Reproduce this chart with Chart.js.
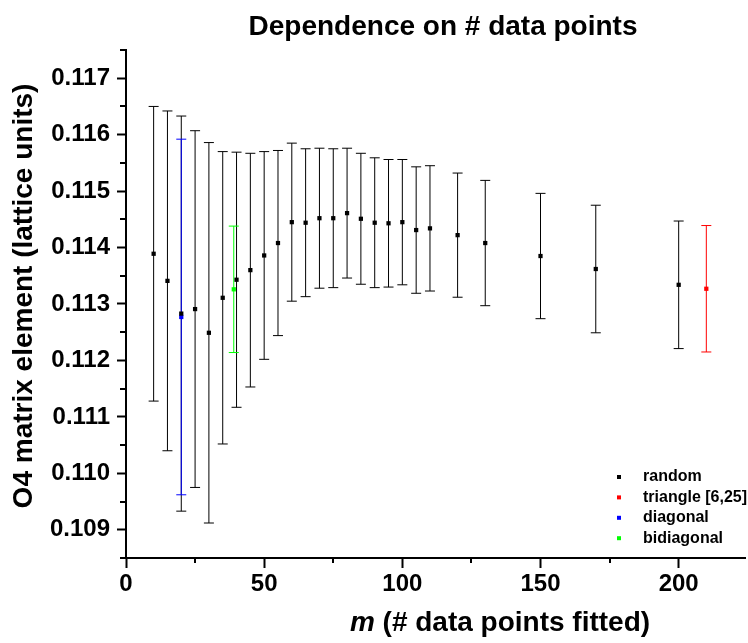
<!DOCTYPE html>
<html>
<head>
<meta charset="utf-8">
<title>Dependence on # data points</title>
<script src="https://cdn.jsdelivr.net/npm/chart.js@4"></script>
<style>
  html, body { margin: 0; padding: 0; background: #fff; }
  #wrap { width: 748px; height: 643px; }
</style>
</head>
<body>
<div id="wrap"><canvas id="fitChart" width="748" height="643"></canvas></div>
<script>
// m = number of data points fitted; O4 matrix element and its error for each sampling scheme
const mRandom = [10, 15, 20, 25, 30, 35, 40, 45, 50, 55, 60, 65, 70, 75, 80, 85, 90, 95, 100, 105, 110, 120, 130, 150, 170, 200];
const o4Random = [0.11389, 0.11341, 0.11283, 0.11291, 0.11249, 0.11311, 0.11343, 0.11360, 0.11386, 0.11408,
                  0.11445, 0.11444, 0.11452, 0.11452, 0.11461, 0.11451, 0.11444, 0.11443, 0.11445, 0.11431,
                  0.11434, 0.11422, 0.11408, 0.11385, 0.11362, 0.11334];
const errRandom = [0.00261, 0.00301, 0.00350, 0.00316, 0.00337, 0.00259, 0.00226, 0.00207, 0.00184, 0.00164,
                   0.00140, 0.00131, 0.00124, 0.00123, 0.00115, 0.00116, 0.00115, 0.00113, 0.00111, 0.00112,
                   0.00111, 0.00110, 0.00111, 0.00111, 0.00113, 0.00113];

const mTriangle = [210];
const o4Triangle = [0.11327];
const errTriangle = [0.00112];

const mDiagonal = [20];
const o4Diagonal = [0.11277];
const errDiagonal = [0.00315];

const mBidiagonal = [39];
const o4Bidiagonal = [0.11326];
const errBidiagonal = [0.00112];

// axis ticks
const xMajor = [0, 50, 100, 150, 200];
const xMinor = [25, 75, 125, 175];
const yMajor = [0.109, 0.110, 0.111, 0.112, 0.113, 0.114, 0.115, 0.116, 0.117];
const yMinor = [0.1085, 0.1095, 0.1105, 0.1115, 0.1125, 0.1135, 0.1145, 0.1155, 0.1165, 0.1175];

const FONT = "'Liberation Sans', Arial, Helvetica, sans-serif";

function toPoints(xs, ys, errs) {
    return xs.map((x, i) => ({ x: x, y: ys[i], err: errs[i] }));
}

// vertical error bars with caps, drawn underneath the markers
const errorBars = {
    id: 'errorBars',
    beforeDatasetsDraw(chart) {
        const { ctx, scales: { x, y } } = chart;
        ctx.save();
        ctx.lineWidth = 1;
        chart.data.datasets.forEach((ds, i) => {
            if (!chart.isDatasetVisible(i)) return;
            ctx.strokeStyle = ds.borderColor;
            ds.data.forEach(p => {
                const px = x.getPixelForValue(p.x);
                const top = y.getPixelForValue(p.y + p.err);
                const bot = y.getPixelForValue(p.y - p.err);
                ctx.beginPath();
                ctx.moveTo(px, top);
                ctx.lineTo(px, bot);
                ctx.moveTo(px - 5, top);
                ctx.lineTo(px + 5, top);
                ctx.moveTo(px - 5, bot);
                ctx.lineTo(px + 5, bot);
                ctx.stroke();
            });
        });
        ctx.restore();
    }
};

// minor ticks, titles and the legend box in the lower right
const decorations = {
    id: 'decorations',
    afterDraw(chart) {
        const { ctx, chartArea, scales: { x, y } } = chart;
        ctx.save();
        ctx.strokeStyle = '#000';
        ctx.lineWidth = 2;
        ctx.beginPath();
        xMinor.forEach(v => {
            const px = Math.round(x.getPixelForValue(v));
            ctx.moveTo(px, chartArea.bottom);
            ctx.lineTo(px, chartArea.bottom + 5);
        });
        yMinor.forEach(v => {
            const py = Math.round(y.getPixelForValue(v));
            ctx.moveTo(chartArea.left, py);
            ctx.lineTo(chartArea.left - 6, py);
        });
        ctx.stroke();

        ctx.fillStyle = '#000';
        ctx.textBaseline = 'middle';

        // chart title
        ctx.textAlign = 'center';
        ctx.font = 'bold 28px ' + FONT;
        ctx.fillText('Dependence on # data points', 443, 27);

        // x axis title, italic m followed by upright text
        const italicPart = 'm';
        const plainPart = ' (# data points fitted)';
        ctx.font = 'italic bold 28px ' + FONT;
        const w1 = ctx.measureText(italicPart).width;
        ctx.font = 'bold 28px ' + FONT;
        const w2 = ctx.measureText(plainPart).width;
        let startX = 500 - (w1 + w2) / 2;
        ctx.textAlign = 'left';
        ctx.font = 'italic bold 28px ' + FONT;
        ctx.fillText(italicPart, startX, 623);
        ctx.font = 'bold 28px ' + FONT;
        ctx.fillText(plainPart, startX + w1, 623);

        // y axis title
        ctx.save();
        ctx.translate(24, 296);
        ctx.rotate(-Math.PI / 2);
        ctx.textAlign = 'center';
        ctx.fillText('O4 matrix element (lattice units)', 0, 0);
        ctx.restore();

        // legend
        ctx.font = 'bold 16px ' + FONT;
        ctx.textAlign = 'left';
        chart.data.datasets.forEach((ds, i) => {
            const rowY = 477 + i * 20.4;
            ctx.fillStyle = ds.backgroundColor;
            ctx.fillRect(617, rowY - 2, 4, 4);
            ctx.fillStyle = '#000';
            ctx.fillText(ds.label, 643, rowY);
        });
        ctx.restore();
    }
};

const tickFont = { family: FONT, size: 24, weight: 'bold' };

new Chart(document.getElementById('fitChart'), {
    type: 'scatter',
    data: {
        datasets: [
            { label: 'random', data: toPoints(mRandom, o4Random, errRandom), backgroundColor: '#000000', borderColor: '#000000' },
            { label: 'triangle [6,25]', data: toPoints(mTriangle, o4Triangle, errTriangle), backgroundColor: '#ff0000', borderColor: '#ff0000' },
            { label: 'diagonal', data: toPoints(mDiagonal, o4Diagonal, errDiagonal), backgroundColor: '#0000ff', borderColor: '#0000ff' },
            { label: 'bidiagonal', data: toPoints(mBidiagonal, o4Bidiagonal, errBidiagonal), backgroundColor: '#00ff00', borderColor: '#00ff00' }
        ]
    },
    options: {
        responsive: false,
        animation: false,
        layout: { padding: { top: 50, left: 0, right: 0, bottom: 0 } },
        elements: {
            point: { pointStyle: 'rect', radius: 3, borderWidth: 0, hoverRadius: 3 }
        },
        plugins: {
            legend: { display: false },
            title: { display: false },
            tooltip: { enabled: false }
        },
        scales: {
            x: {
                type: 'linear',
                min: 0,
                max: 224,
                afterFit(scale) { scale.height = 85; },
                afterBuildTicks(scale) { scale.ticks = xMajor.map(v => ({ value: v })); },
                grid: { drawOnChartArea: false, drawTicks: true, tickLength: 10, tickWidth: 2, tickColor: '#000' },
                border: { display: true, color: '#000', width: 2 },
                ticks: {
                    color: '#000',
                    font: tickFont,
                    padding: 2,
                    maxRotation: 0,
                    autoSkip: false,
                    callback: v => String(v)
                }
            },
            y: {
                type: 'linear',
                min: 0.1085,
                max: 0.1175,
                afterFit(scale) { scale.width = 126; },
                afterBuildTicks(scale) { scale.ticks = yMajor.map(v => ({ value: v })); },
                grid: { drawOnChartArea: false, drawTicks: true, tickLength: 9, tickWidth: 2, tickColor: '#000' },
                border: { display: true, color: '#000', width: 2 },
                ticks: {
                    color: '#000',
                    font: tickFont,
                    padding: 7,
                    autoSkip: false,
                    callback: v => v.toFixed(3)
                }
            }
        }
    },
    plugins: [errorBars, decorations]
});
</script>
</body>
</html>
